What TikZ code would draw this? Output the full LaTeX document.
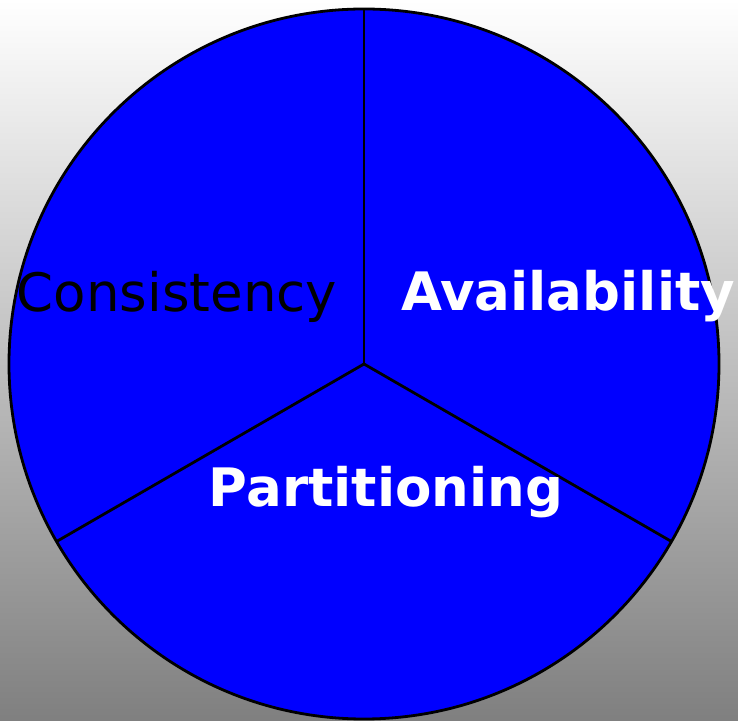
\documentclass[tikz,border=0pt]{standalone}
\usepackage{fontspec}
\setmainfont{DejaVu Sans}
\begin{document}
\begin{tikzpicture}[x=1pt,y=1pt,
  sector/.style={fill=blue,draw=black,line width=2.8pt},
  divider/.style={draw=black,line width=2.8pt},
  labeltext/.style={anchor=base,inner sep=0pt,font=\fontsize{53}{58}\selectfont}]
  % shaded backdrop
  \shade[top color=white,bottom color=black!50] (0,0) rectangle (738,720);
  \useasboundingbox (0,0) rectangle (738,720);
  % pie
  \coordinate (c) at (364,356);
  \draw[sector] (c) circle[radius=355];
  \draw[divider] (c) -- +(90:355);
  \draw[divider] (c) -- +(210:355);
  \draw[divider] (c) -- +(330:355);
  % labels
  \node[labeltext,text=black] (cons) at (177,408) {Consistency};
  \node[labeltext,text=white,font=\fontsize{53}{58}\selectfont\bfseries] (avail) at (568,409) {Availability};
  \node[labeltext,text=white,font=\fontsize{53}{58}\selectfont\bfseries] (part) at (386,213) {Partitioning};
\end{tikzpicture}
\end{document}
